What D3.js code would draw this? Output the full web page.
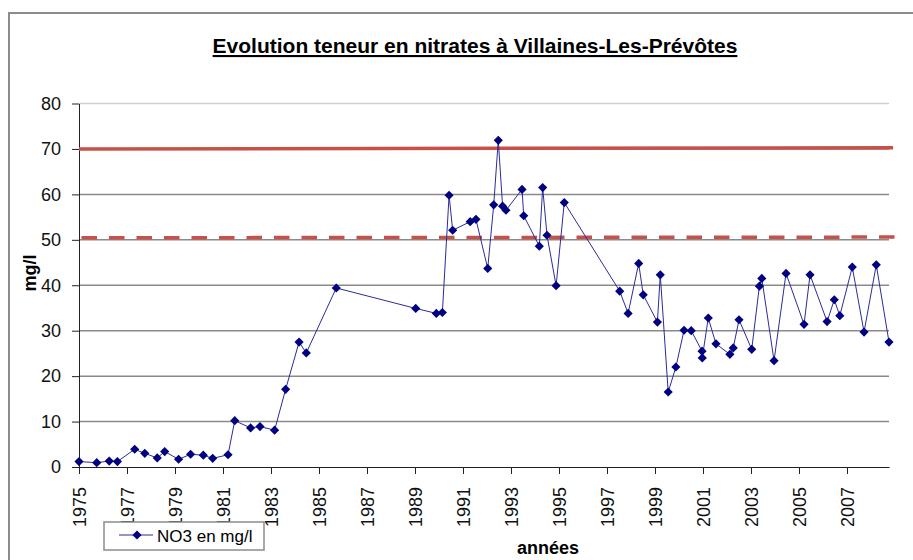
<html>
<head>
<meta charset="utf-8">
<script src="https://d3js.org/d3.v7.min.js"></script>
<style>
  body { margin: 0; background: #fff; }
  text { font-family: "Liberation Sans", Arial, sans-serif; }
</style>
</head>
<body>
<div id="my_dataviz"></div>
<script>

// data (decimal year, NO3 in mg/l)
var annees = [1975.0, 1975.74, 1976.26, 1976.6, 1977.32, 1977.74, 1978.26, 1978.57, 1979.15, 1979.65,
  1980.18, 1980.57, 1981.21, 1981.49, 1982.15, 1982.54, 1983.15, 1983.61, 1984.17, 1984.47,
  1985.72, 1989.03, 1989.89, 1990.14, 1990.42, 1990.57, 1991.30, 1991.54, 1992.03, 1992.28,
  1992.47, 1992.65, 1992.79, 1993.46, 1993.53, 1994.18, 1994.32, 1994.5, 1994.88, 1995.22,
  1997.53, 1997.88, 1998.32, 1998.51, 1999.10, 1999.22, 1999.55, 1999.87, 2000.21, 2000.51,
  2000.96, 2000.97, 2001.22, 2001.54, 2002.12, 2002.26, 2002.5, 2003.03, 2003.35, 2003.45,
  2003.96, 2004.46, 2005.21, 2005.46, 2006.17, 2006.47, 2006.70, 2007.22, 2007.71, 2008.22, 2008.75];
var no3 = [1.2, 0.95, 1.3, 1.2, 3.9, 3.0, 2.0, 3.4, 1.7, 2.8,
  2.6, 1.9, 2.7, 10.2, 8.6, 8.9, 8.1, 17.1, 27.5, 25.1,
  39.4, 34.9, 33.8, 34.0, 59.8, 52.1, 54.0, 54.5, 43.7, 57.7,
  71.9, 57.4, 56.5, 61.1, 55.3, 48.6, 61.5, 51.0, 39.9, 58.2,
  38.7, 33.8, 44.8, 37.9, 31.9, 42.3, 16.5, 22.0, 30.1, 30.0,
  25.5, 24.0, 32.8, 27.1, 24.8, 26.2, 32.4, 25.9, 39.8, 41.5,
  23.4, 42.6, 31.4, 42.3, 32.0, 36.8, 33.3, 44.0, 29.7, 44.5, 27.5];

// threshold lines (start / end of the period)
var seuilAnnees = [1975.0, 2008.92];
var seuil70 = [70.0, 70.25];
var seuil50 = [50.45, 50.6];

var yTicks = [0, 10, 20, 30, 40, 50, 60, 70, 80];
var xTicks = [1975, 1977, 1979, 1981, 1983, 1985, 1987, 1989, 1991, 1993, 1995, 1997, 1999, 2001, 2003, 2005, 2007];

var W = 913, H = 560;
var plot = { left: 79, right: 889, top: 103.5, bottom: 467 };

var svg = d3.select("#my_dataviz")
  .append("svg")
  .attr("width", W)
  .attr("height", H);

// outer frame of the chart object
svg.append("rect")
  .attr("x", 9).attr("y", 13)
  .attr("width", W + 20).attr("height", H + 20)
  .style("fill", "none")
  .style("stroke", "#8c8c8c")
  .style("stroke-width", 2);

var x = d3.scaleLinear()
  .domain([1975, 2008.75])
  .range([plot.left, plot.right]);

var y = d3.scaleLinear()
  .domain([0, 80])
  .range([plot.bottom, plot.top]);

// title
svg.append("text")
  .attr("x", 475)
  .attr("y", 53)
  .attr("text-anchor", "middle")
  .style("font-size", "21px")
  .style("font-weight", "bold")
  .style("text-decoration", "underline")
  .text("Evolution teneur en nitrates à Villaines-Les-Prévôtes");

// horizontal gridlines
svg.append("g")
  .selectAll("line")
  .data(yTicks.filter(function (d) { return d > 0; }))
  .enter()
  .append("line")
  .attr("x1", plot.left)
  .attr("x2", plot.right)
  .attr("y1", function (d) { return y(d); })
  .attr("y2", function (d) { return y(d); })
  .style("stroke", function (d) { return d == 80 ? "#cfcfcf" : "#8a8a8a"; })
  .style("stroke-width", 1.5);

// y axis
var yAxis = svg.append("g")
  .attr("transform", "translate(" + plot.left + ",0)")
  .call(d3.axisLeft(y).tickValues(yTicks).tickSize(7).tickPadding(11).tickSizeOuter(0));
yAxis.selectAll("text").style("font-size", "18px").style("fill", "#111");
yAxis.selectAll("line, path").style("stroke", "#222");

// x axis
var xAxis = svg.append("g")
  .attr("transform", "translate(0," + plot.bottom + ")")
  .call(d3.axisBottom(x).tickValues(xTicks).tickFormat(d3.format("d")).tickSize(7).tickSizeOuter(0));
xAxis.selectAll("text")
  .style("font-size", "18px")
  .style("fill", "#111")
  .attr("text-anchor", "end")
  .attr("transform", "rotate(-90)")
  .attr("x", -20)
  .attr("y", 0)
  .attr("dy", "0.35em");
xAxis.selectAll("line, path").style("stroke", "#222");

// threshold lines
var seuilLine = d3.line()
  .x(function (d, i) { return x(seuilAnnees[i]); })
  .y(function (d) { return y(d); });

svg.append("path")
  .datum(seuil70)
  .attr("d", seuilLine)
  .style("fill", "none")
  .style("stroke", "#c8504a")
  .style("stroke-width", 3.5);

svg.append("path")
  .datum(seuil50)
  .attr("d", seuilLine)
  .attr("transform", "translate(2.5,0)")
  .style("fill", "none")
  .style("stroke", "#c8504a")
  .style("stroke-width", 3.5)
  .style("stroke-dasharray", "15.5,12");

// NO3 series
var pts = annees.map(function (a, i) { return { a: a, v: no3[i] }; });

svg.append("path")
  .datum(pts)
  .attr("d", d3.line()
    .x(function (d) { return x(d.a); })
    .y(function (d) { return y(d.v); }))
  .style("fill", "none")
  .style("stroke", "#2b2b9a")
  .style("stroke-width", 1);

var diamond = d3.symbol().type(d3.symbolSquare).size(42);

svg.append("g")
  .selectAll("path")
  .data(pts)
  .enter()
  .append("path")
  .attr("d", diamond)
  .attr("transform", function (d) { return "translate(" + x(d.a) + "," + y(d.v) + ") rotate(45)"; })
  .style("fill", "#000080");

// axis titles
svg.append("text")
  .attr("transform", "translate(36,273) rotate(-90)")
  .attr("text-anchor", "middle")
  .style("font-size", "18px")
  .style("font-weight", "bold")
  .text("mg/l");

svg.append("text")
  .attr("x", 548)
  .attr("y", 554)
  .attr("text-anchor", "middle")
  .style("font-size", "18px")
  .style("font-weight", "bold")
  .text("années");

// legend (covers the bottom of some year labels, as in the original)
var legend = svg.append("g").attr("transform", "translate(104,522)");
legend.append("rect")
  .attr("width", 160).attr("height", 28)
  .style("fill", "#fff")
  .style("stroke", "#8c8c8c")
  .style("stroke-width", 1.5);
legend.append("line")
  .attr("x1", 15).attr("x2", 49).attr("y1", 13).attr("y2", 13)
  .style("stroke", "#2b2b9a")
  .style("stroke-width", 1);
legend.append("path")
  .attr("d", diamond)
  .attr("transform", "translate(33,13) rotate(45)")
  .style("fill", "#000080");
legend.append("text")
  .attr("x", 53).attr("y", 20)
  .style("font-size", "17px")
  .text("NO3 en mg/l");

</script>
</body>
</html>
